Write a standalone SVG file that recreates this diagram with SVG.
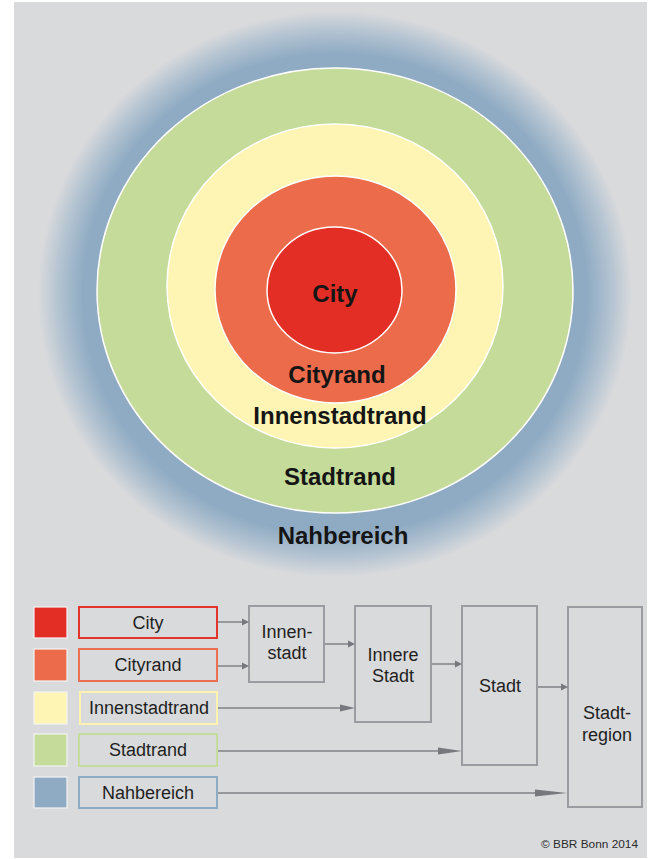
<svg xmlns="http://www.w3.org/2000/svg" width="653" height="859" viewBox="0 0 653 859">
  <defs>
    <radialGradient id="nahFade" cx="0.5" cy="0.5" r="0.5">
      <stop offset="0" stop-color="#8eabc3"/>
      <stop offset="0.85" stop-color="#8fabc3"/>
      <stop offset="0.93" stop-color="#b3c3d1"/>
      <stop offset="1" stop-color="#d9dadc"/>
    </radialGradient>
    <style>
      .ring { stroke: #ffffff; stroke-width: 1.5; }
      .ringLabel { font-family: "Liberation Sans", Arial, sans-serif; font-weight: bold; font-size: 24px; fill: #151515; text-anchor: middle; }
      .swatch { stroke: #f4f4f4; stroke-width: 1.2; }
      .keyBox { fill: #d9dadc; stroke-width: 2; }
      .keyText { font-family: "Liberation Sans", Arial, sans-serif; font-size: 18px; fill: #1f1f1f; text-anchor: middle; }
      .unit { fill: #d9dadc; stroke: #9b9ca1; stroke-width: 2; }
      .unitText { font-family: "Liberation Sans", Arial, sans-serif; font-size: 18px; fill: #1f1f1f; text-anchor: middle; }
      .link { stroke: #818287; stroke-width: 1.5; fill: none; }
      .head { fill: #77787d; }
      .credit { font-family: "Liberation Sans", Arial, sans-serif; font-size: 11px; fill: #2a2a2a; }
    </style>
  </defs>

  <!-- page background -->
  <rect x="0" y="0" width="653" height="859" fill="#ffffff"/>
  <rect x="14" y="2" width="633" height="856" fill="#d9dadc"/>

  <!-- concentric zones -->
  <g id="zone-nahbereich">
    <ellipse cx="335" cy="294" rx="297" ry="283" fill="url(#nahFade)"/>
  </g>
  <g id="zone-stadtrand">
    <ellipse class="ring" cx="335" cy="290.5" rx="238" ry="222.5" fill="#c4db9a"/>
  </g>
  <g id="zone-innenstadtrand">
    <ellipse class="ring" cx="335" cy="286" rx="168" ry="162" fill="#fef5b5"/>
  </g>
  <g id="zone-cityrand">
    <ellipse class="ring" cx="335.5" cy="289.5" rx="120.5" ry="113.5" fill="#eb6b4b"/>
  </g>
  <g id="zone-city">
    <ellipse class="ring" cx="334.5" cy="290" rx="67.5" ry="63" fill="#e32e25"/>
  </g>

  <!-- zone names -->
  <g id="zone-labels">
    <text class="ringLabel" x="335" y="302">City</text>
    <text class="ringLabel" x="337" y="383">Cityrand</text>
    <text class="ringLabel" x="340" y="424">Innenstadtrand</text>
    <text class="ringLabel" x="340" y="485">Stadtrand</text>
    <text class="ringLabel" x="343" y="544">Nahbereich</text>
  </g>

  <!-- key: colour swatch and zone name -->
  <g id="key-city">
    <rect class="swatch" x="34" y="607" width="33" height="31" fill="#e32e25"/>
    <rect class="keyBox" x="79" y="607" width="138" height="31" stroke="#e3342b"/>
    <text class="keyText" x="148" y="628.5">City</text>
  </g>
  <g id="key-cityrand">
    <rect class="swatch" x="34" y="649" width="33" height="32" fill="#eb6b4b"/>
    <rect class="keyBox" x="79" y="649" width="138" height="32" stroke="#eb6f50"/>
    <text class="keyText" x="148" y="671">Cityrand</text>
  </g>
  <g id="key-innenstadtrand">
    <rect class="swatch" x="34" y="692" width="33" height="32" fill="#fef5b5"/>
    <rect class="keyBox" x="80" y="692" width="137" height="32" stroke="#fdf2ae"/>
    <text class="keyText" x="149" y="714">Innenstadtrand</text>
  </g>
  <g id="key-stadtrand">
    <rect class="swatch" x="34" y="734" width="33" height="32" fill="#c4db9a"/>
    <rect class="keyBox" x="79" y="734" width="138" height="32" stroke="#c5dc9c"/>
    <text class="keyText" x="148" y="756">Stadtrand</text>
  </g>
  <g id="key-nahbereich">
    <rect class="swatch" x="34" y="777" width="33" height="31" fill="#8eabc3"/>
    <rect class="keyBox" x="79" y="777" width="138" height="31" stroke="#8eabc3"/>
    <text class="keyText" x="148" y="798.5">Nahbereich</text>
  </g>

  <!-- aggregated spatial units -->
  <g id="unit-innenstadt">
    <rect class="unit" x="249" y="606" width="75" height="76"/>
    <text class="unitText" x="287" y="638">Innen-</text>
    <text class="unitText" x="287" y="659">stadt</text>
  </g>
  <g id="unit-innere-stadt">
    <rect class="unit" x="355" y="606" width="76" height="116"/>
    <text class="unitText" x="393" y="661">Innere</text>
    <text class="unitText" x="393" y="682">Stadt</text>
  </g>
  <g id="unit-stadt">
    <rect class="unit" x="462" y="606" width="75" height="159"/>
    <text class="unitText" x="500" y="692">Stadt</text>
  </g>
  <g id="unit-stadtregion">
    <rect class="unit" x="568" y="607" width="74" height="200"/>
    <text class="unitText" x="607" y="719">Stadt-</text>
    <text class="unitText" x="607" y="741">region</text>
  </g>

  <!-- connectors -->
  <g id="connectors">
    <line class="link" x1="218" y1="622" x2="244" y2="622"/>
    <polygon class="head" points="249,622 242,618.5 242,625.5"/>
    <line class="link" x1="218" y1="666" x2="244" y2="666"/>
    <polygon class="head" points="249,666 242,662.5 242,669.5"/>
    <line class="link" x1="325" y1="644" x2="350" y2="644"/>
    <polygon class="head" points="355,644 348,640.5 348,647.5"/>
    <line class="link" x1="432" y1="664" x2="457" y2="664"/>
    <polygon class="head" points="462,664 455,660.5 455,667.5"/>
    <line class="link" x1="538" y1="687" x2="563" y2="687"/>
    <polygon class="head" points="568,687 561,683.5 561,690.5"/>

    <line class="link" x1="218" y1="708" x2="342" y2="708"/>
    <polygon class="head" points="355,708 340,704.5 340,711.5"/>
    <line class="link" x1="218" y1="751" x2="440" y2="751"/>
    <polygon class="head" points="462,751 438,747.5 438,754.5"/>
    <line class="link" x1="218" y1="793" x2="537" y2="793"/>
    <polygon class="head" points="567,793 535,789.5 535,796.5"/>
  </g>

  <!-- credit line -->
  <text class="credit" x="541" y="848" textLength="97" lengthAdjust="spacingAndGlyphs">© BBR Bonn 2014</text>
</svg>
